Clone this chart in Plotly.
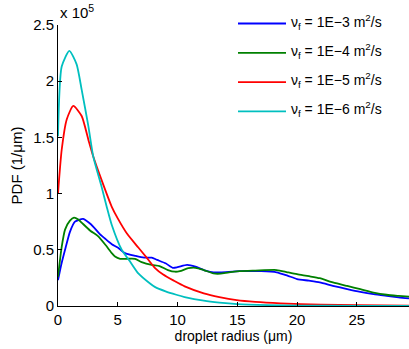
import plotly.graph_objects as go

# droplet radius (um) and PDF values (units of 1e5 per um)
x_b = [0, 0.3, 0.59, 1.0, 1.42, 2.1, 2.6, 3.0, 3.5, 3.93, 4.5, 5.0, 5.6, 6.5, 7.2, 7.84, 8.3, 9.0, 9.6, 10.0,
       10.8, 11.5, 12.2, 13.0, 13.6, 15.2, 17.0, 18.3, 19.2, 20.0, 21.0, 21.9, 23.0, 24.2, 25.3, 26.4, 27.5, 28.5, 29.37]
y_b = [0.23, 0.38, 0.50, 0.66, 0.75, 0.775, 0.74, 0.70, 0.64, 0.60, 0.55, 0.52, 0.47, 0.445, 0.43, 0.43, 0.41, 0.38, 0.34, 0.345,
       0.365, 0.35, 0.32, 0.30, 0.30, 0.31, 0.31, 0.30, 0.27, 0.24, 0.225, 0.21, 0.18, 0.15, 0.125, 0.105, 0.09, 0.077, 0.068]

x_g = [0, 0.3, 0.59, 1.0, 1.34, 1.7, 2.0, 2.7, 3.37, 4.0, 4.5, 4.77, 5.2, 5.6, 6.44, 7.0, 7.84, 8.5, 9.2, 9.8,
       10.2, 10.9, 11.5, 12.2, 13.0, 13.6, 14.3, 15.2, 16.5, 18.3, 19.2, 20.0, 21.0, 21.9, 23.0, 24.2, 25.3, 26.4, 27.5, 28.5, 29.37]
y_g = [0.26, 0.52, 0.68, 0.76, 0.787, 0.77, 0.74, 0.67, 0.62, 0.54, 0.47, 0.44, 0.42, 0.42, 0.42, 0.39, 0.365, 0.355, 0.32, 0.305,
       0.31, 0.336, 0.34, 0.32, 0.29, 0.288, 0.30, 0.31, 0.315, 0.32, 0.30, 0.283, 0.265, 0.247, 0.21, 0.178, 0.15, 0.12, 0.10, 0.09, 0.083]

x_r = [0, 0.31, 0.73, 1.28, 1.98, 2.54, 2.95, 3.65, 4.49, 5.0, 5.8, 6.72, 7.42, 8.1, 8.8, 9.7, 10.6, 12.2, 13.5, 14.95,
       16.5, 18.6, 22.0, 25.0, 29.37]
y_r = [1.0, 1.39, 1.66, 1.78, 1.69, 1.48, 1.33, 1.12, 0.885, 0.78, 0.64, 0.52, 0.43, 0.34, 0.28, 0.225, 0.175, 0.113, 0.08, 0.053,
       0.037, 0.024, 0.012, 0.007, 0.004]

x_c = [0, 0.31, 0.95, 1.56, 1.98, 2.54, 2.95, 3.65, 4.07, 4.5, 5.33, 6.0, 6.72, 7.7, 8.1, 9.0, 9.9, 10.6, 12.2, 13.5,
       15.0, 17.5, 20.0, 25.0, 29.37]
y_c = [1.51, 2.13, 2.27, 2.15, 1.925, 1.6, 1.33, 1.06, 0.885, 0.72, 0.50, 0.40, 0.29, 0.20, 0.17, 0.13, 0.10, 0.08, 0.047, 0.03,
       0.017, 0.008, 0.004, 0.002, 0.001]

names = ["ν<sub>f</sub> = 1E−3 m<sup>2</sup>/s", "ν<sub>f</sub> = 1E−4 m<sup>2</sup>/s",
         "ν<sub>f</sub> = 1E−5 m<sup>2</sup>/s", "ν<sub>f</sub> = 1E−6 m<sup>2</sup>/s"]
colors = ["#0000ff", "#008000", "#ff0000", "#00bfbf"]

x_ticks = [0, 5, 10, 15, 20, 25]
y_ticks = [0, 0.5, 1, 1.5, 2, 2.5]
y_ticklabels = ["0", "0.5", "1", "1.5", "2", "2.5"]

FONT = "Liberation Sans, Arial, sans-serif"

fig = go.Figure()
for xs, ys, nm, col in zip([x_b, x_g, x_r, x_c], [y_b, y_g, y_r, y_c], names, colors):
    fig.add_trace(go.Scatter(x=xs, y=ys, mode="lines", name=nm,
                             line=dict(color=col, width=1.8, shape="spline", smoothing=0.6),
                             showlegend=False))

# plot area in page pixels
W, H = 409, 349
left, right, top, bottom = 58, 409, 25, 306
pw, ph = right - left, bottom - top

# manual legend (MATLAB style)
leg_y0 = 23.5
leg_dy = 29.3
for i, (nm, col) in enumerate(zip(names, colors)):
    py = leg_y0 + i * leg_dy
    yp = (bottom - py) / ph
    fig.add_shape(type="line", xref="paper", yref="paper",
                  x0=(238 - left) / pw, x1=(286 - left) / pw, y0=yp, y1=yp,
                  line=dict(color=col, width=1.8))
    fig.add_annotation(xref="paper", yref="paper", x=(289 - left) / pw, y=yp + 2 / ph,
                       text=nm, showarrow=False, xanchor="left", yanchor="middle",
                       font=dict(family=FONT, size=14, color="black"))

fig.add_annotation(xref="paper", yref="paper", x=0, y=1.0 + 2 / ph, text="x 10<sup>5</sup>",
                   showarrow=False, xanchor="left", yanchor="bottom",
                   font=dict(family=FONT, size=15, color="black"))

fig.update_layout(
    width=W, height=H,
    margin=dict(l=left, r=W - right, t=top, b=H - bottom, autoexpand=False),
    paper_bgcolor="white", plot_bgcolor="white",
    font=dict(family=FONT, size=15, color="black"),
    xaxis=dict(range=[0, 29.37], tickvals=x_ticks, ticks="inside", ticklen=4, tickcolor="black",
               showline=True, linecolor="black", linewidth=1, showgrid=False, zeroline=False,
               title=dict(text="droplet radius (μm)", font=dict(size=14), standoff=0),
               tickfont=dict(size=15)),
    yaxis=dict(range=[0, 2.5], tickvals=y_ticks, ticktext=y_ticklabels, ticks="inside", ticklen=4,
               tickcolor="black", showline=True, linecolor="black", linewidth=1, showgrid=False,
               zeroline=False, title=dict(text="PDF (1/μm)", font=dict(size=15), standoff=6),
               tickfont=dict(size=15)),
)

fig.write_html("out.html", config={"displayModeBar": False},
               post_script="document.body.style.margin='0';document.body.style.overflow='hidden';")
